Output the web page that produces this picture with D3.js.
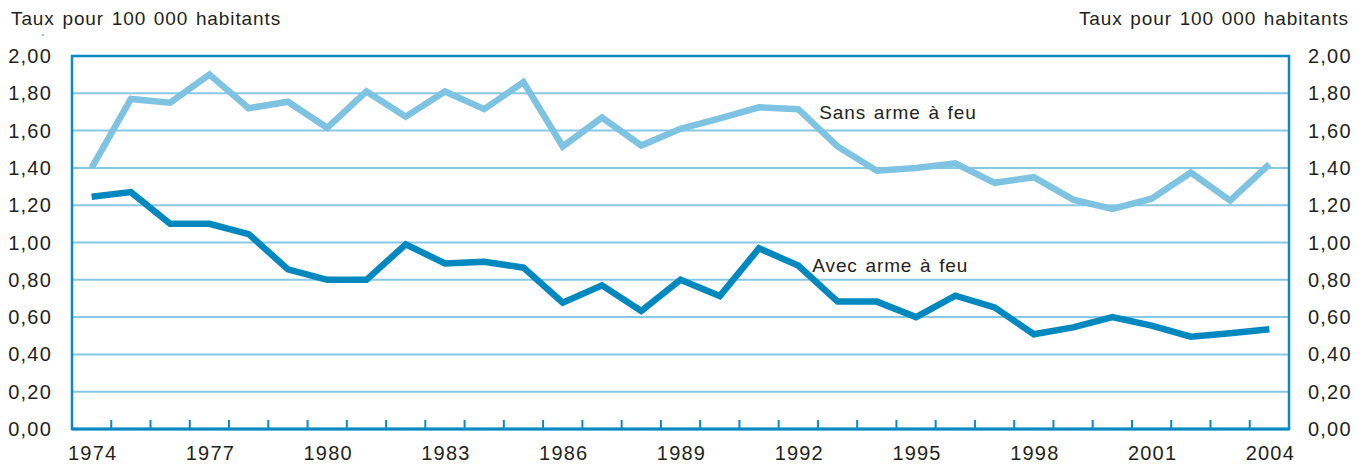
<!DOCTYPE html>
<html>
<head>
<meta charset="utf-8">
<script src="https://cdn.jsdelivr.net/npm/d3@7"></script>
<style>
  body { margin: 0; background: #fff; }
  svg text { font-family: "Liberation Sans Narrow", "Arial Narrow", "Liberation Sans", sans-serif; fill: #231f20; }
</style>
</head>
<body>
<div id="chart"></div>
<script>
// years 1974..2004
const years = d3.range(1974, 2005);
const tickYears = [1974, 1977, 1980, 1983, 1986, 1989, 1992, 1995, 1998, 2001, 2004];
const yTicks = [0, 0.2, 0.4, 0.6, 0.8, 1.0, 1.2, 1.4, 1.6, 1.8, 2.0];

// Sans arme à feu
const sansArme = [1.40, 1.77, 1.75, 1.90, 1.72, 1.755, 1.615, 1.81, 1.675, 1.81,
                  1.715, 1.86, 1.515, 1.67, 1.52, 1.61, 1.665, 1.725, 1.715, 1.515,
                  1.385, 1.40, 1.425, 1.32, 1.35, 1.23, 1.18, 1.235, 1.375, 1.225, 1.42];
// Avec arme à feu
const avecArme = [1.245, 1.27, 1.10, 1.10, 1.045, 0.856, 0.80, 0.80, 0.99, 0.888,
                  0.897, 0.865, 0.677, 0.77, 0.633, 0.80, 0.713, 0.969, 0.876, 0.683,
                  0.683, 0.60, 0.715, 0.652, 0.508, 0.545, 0.60, 0.554, 0.495, 0.513, 0.535];

const W = 1369, H = 466;
const margin = { top: 56, right: 80, bottom: 37, left: 72 };
const width = W - margin.left - margin.right,
      height = H - margin.top - margin.bottom;

const svg = d3.select("#chart").append("svg")
  .attr("width", W).attr("height", H);

const g = svg.append("g").attr("transform", `translate(${margin.left},${margin.top})`);

const x = d3.scaleBand().domain(years).range([0, width]).padding(0);
const y = d3.scaleLinear().domain([0, 2]).range([height, 0]);
const cx = d => x(d) + x.bandwidth() / 2;

const frameColor = "#0a89c2", gridColor = "#86c8e6";
const lightLine = "#7fc3e3", darkLine = "#0088bf";

// horizontal gridlines
g.append("g")
  .selectAll("line")
  .data(yTicks.filter(v => v > 0 && v < 2))
  .join("line")
    .attr("x1", 0).attr("x2", width)
    .attr("y1", d => y(d)).attr("y2", d => y(d))
    .attr("stroke", gridColor).attr("stroke-width", 2);

// frame
g.append("rect")
  .attr("x", 0).attr("y", 0).attr("width", width).attr("height", height)
  .attr("fill", "none").attr("stroke", frameColor).attr("stroke-width", 2.5);
g.append("line")
  .attr("x1", 0).attr("x2", width).attr("y1", height).attr("y2", height)
  .attr("stroke", frameColor).attr("stroke-width", 3);

// inner ticks at band boundaries
g.append("g")
  .selectAll("line")
  .data(years.slice(1))
  .join("line")
    .attr("x1", d => x(d)).attr("x2", d => x(d))
    .attr("y1", height).attr("y2", height - 9)
    .attr("stroke", frameColor).attr("stroke-width", 2);

// year labels
g.append("g")
  .selectAll("text")
  .data(tickYears)
  .join("text")
    .attr("x", d => cx(d) + 1).attr("y", height + 31)
    .attr("text-anchor", "middle")
    .style("font-size", "20px").style("letter-spacing", "1.2px")
    .text(d => d);

const fmt = d => d3.format(".2f")(d).replace(".", ",");

// left y labels
g.append("g")
  .selectAll("text")
  .data(yTicks)
  .join("text")
    .attr("x", -20).attr("y", d => y(d) + 7)
    .attr("text-anchor", "end")
    .style("font-size", "20px").style("letter-spacing", "1.2px")
    .text(fmt);

// right y labels
g.append("g")
  .selectAll("text")
  .data(yTicks)
  .join("text")
    .attr("x", width + 19).attr("y", d => y(d) + 7)
    .attr("text-anchor", "start")
    .style("font-size", "20px").style("letter-spacing", "1.2px")
    .text(fmt);

// lines
const line = d3.line()
  .x((d, i) => cx(years[i]))
  .y(d => y(d));

g.append("path").datum(sansArme)
  .attr("fill", "none").attr("stroke", lightLine)
  .attr("stroke-width", 6.5).attr("stroke-linejoin", "miter")
  .attr("d", line);

g.append("path").datum(avecArme)
  .attr("fill", "none").attr("stroke", darkLine)
  .attr("stroke-width", 6.5).attr("stroke-linejoin", "miter")
  .attr("d", line);

// series labels
const labelStyle = sel => sel
  .style("font-size", "19px").style("letter-spacing", "0.9px").style("word-spacing", "1.5px");

g.append("text")
  .attr("x", cx(1992) + 21).attr("y", y(1.66))
  .call(labelStyle)
  .text("Sans arme à feu");

g.append("text")
  .attr("x", cx(1992) + 14).attr("y", y(0.84))
  .call(labelStyle)
  .text("Avec arme à feu");

// axis titles
svg.append("text")
  .attr("x", 11).attr("y", 25)
  .call(labelStyle)
  .text("Taux pour 100 000 habitants");

svg.append("text")
  .attr("x", 1349).attr("y", 25)
  .attr("text-anchor", "end")
  .call(labelStyle)
  .text("Taux pour 100 000 habitants");

// small mark under left title
svg.append("line")
  .attr("x1", 42).attr("x2", 44).attr("y1", 35).attr("y2", 35)
  .attr("stroke", frameColor).attr("stroke-width", 1);
</script>
</body>
</html>
